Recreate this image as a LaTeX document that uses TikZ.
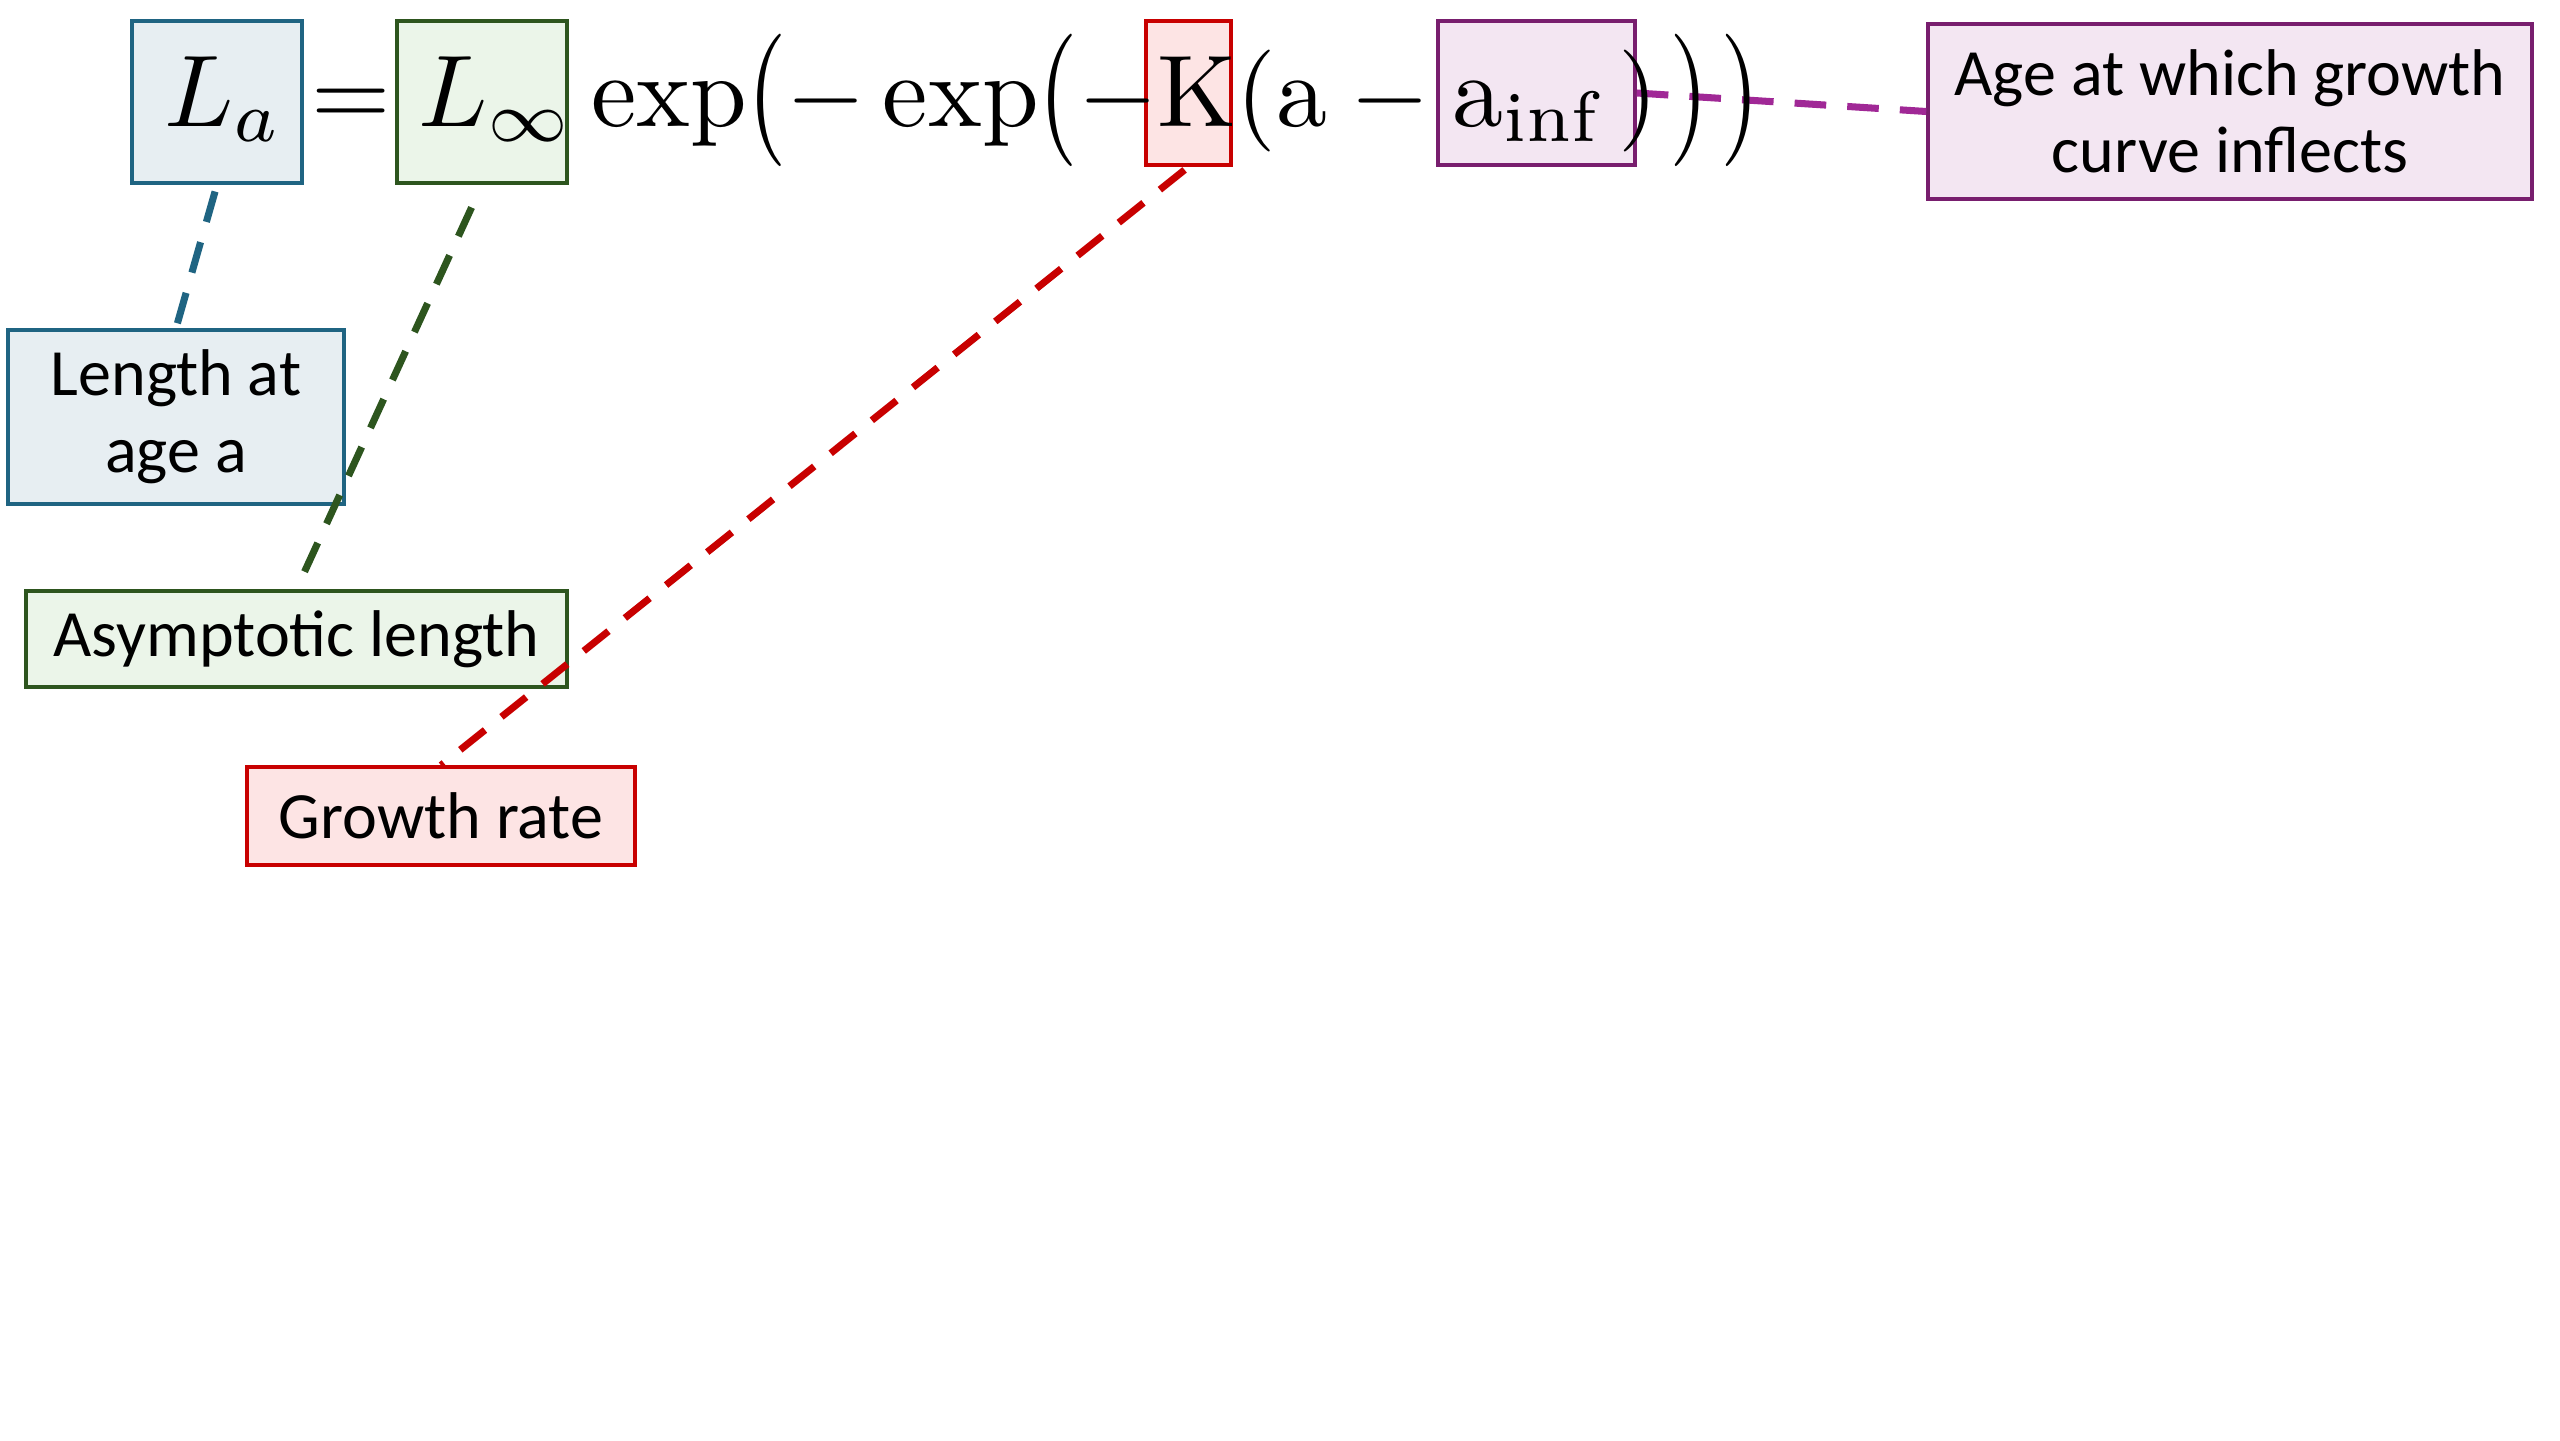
\documentclass[tikz,border=0pt]{standalone}
\usepackage{fontspec}
\newfontfamily\labelfont{Carlito}
\usetikzlibrary{backgrounds}

\definecolor{lenblue}{RGB}{31,100,130}
\definecolor{lenbluefill}{RGB}{231,238,242}
\definecolor{asymgreen}{RGB}{45,85,30}
\definecolor{asymgreenfill}{RGB}{235,245,233}
\definecolor{ratered}{RGB}{200,0,0}
\definecolor{rateredfill}{RGB}{253,228,228}
\definecolor{inflpurple}{RGB}{120,30,110}
\definecolor{inflpurplefill}{RGB}{243,230,242}
\definecolor{inflpurpleline}{RGB}{160,40,150}

% tall outer parentheses
\newcommand{\tallopen}{\mathopen{\raisebox{-0.75pt}{\scalebox{1}[1.3]{$($}}}}
\newcommand{\tallclose}{\mathclose{\raisebox{-0.75pt}{\scalebox{1}[1.3]{$)$}}}}

\begin{document}
\begin{tikzpicture}[
            background rectangle/.style={fill=white},
            inner frame sep=0pt,
            show background rectangle,
            term/.style={draw, line width=1pt, inner sep=0pt},
            note/.style={draw, line width=1pt, inner sep=0pt, align=center,
                font=\labelfont\fontsize{18.8}{22}\selectfont},
            link/.style={line width=2pt, dash pattern=on 9pt off 6pt}
        ]

        \useasboundingbox (0,0) rectangle (25.6,-14.4);

        % boxes round the terms
        \node[term, draw=lenblue, fill=lenbluefill, minimum width=1.70cm, minimum height=1.62cm] (boxLa) at (2.17,-1.02) {};
        \node[term, draw=asymgreen, fill=asymgreenfill, minimum width=1.70cm, minimum height=1.62cm] (boxLinf) at (4.82,-1.02) {};
        \node[term, draw=ratered, fill=rateredfill, minimum width=0.85cm, minimum height=1.44cm] (boxK) at (11.885,-0.93) {};
        \node[term, draw=inflpurple, fill=inflpurplefill, minimum width=1.97cm, minimum height=1.44cm] (boxAinf) at (15.365,-0.93) {};

        % labels
        \node[note, draw=lenblue, fill=lenbluefill, minimum width=3.36cm, minimum height=1.74cm] (labLen) at (1.76,-4.17) {Length at\\age a};
        \node[note, draw=asymgreen, fill=asymgreenfill, minimum width=5.41cm, minimum height=0.96cm] (labAsym) at (2.965,-6.39) {Asymptotic length};
        \node[note, draw=ratered, fill=rateredfill, minimum width=3.88cm, minimum height=0.98cm] (labGrowth) at (4.41,-8.16) {Growth rate};
        \node[note, draw=inflpurple, fill=inflpurplefill, minimum width=6.04cm, minimum height=1.75cm] (labAge) at (22.30,-1.115) {Age at which growth\\curve inflects};

        \path[link, draw=lenblue, shorten <=0.7mm] (boxLa.south) edge (labLen.north);
        \path[link, draw=asymgreen, shorten <=2.5mm] (boxLinf.south) edge (labAsym.north);
        \path[link, draw=ratered, shorten <=0.5mm] (boxK.south) edge (labGrowth.north);
        \path[link, draw=inflpurpleline] (boxAinf.east) edge (labAge.west);

        % the equation
        \node[anchor=base west, inner sep=0pt, scale=2.9] (eqn) at (1.62,-1.26)
            {$L_a = L_\infty \exp\tallopen-\exp\tallopen-\mathrm{K}(\mathrm{a}-\mathrm{a}_{\mathrm{inf}}\mkern3mu)\mkern2mu\tallclose\mkern2mu\tallclose$};

    \end{tikzpicture}
\end{document}
